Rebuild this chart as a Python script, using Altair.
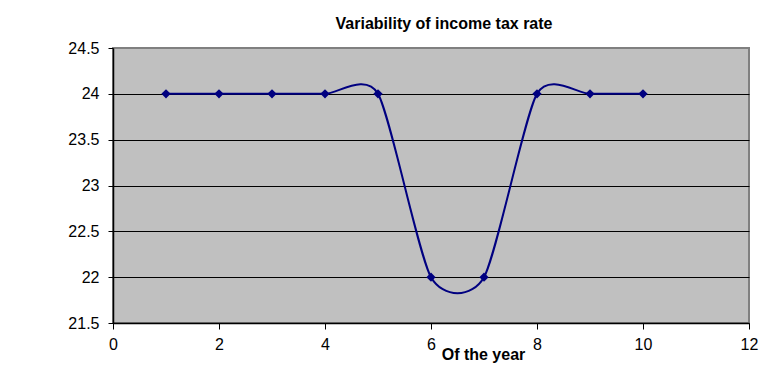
import altair as alt
import pandas as pd

years = [1, 2, 3, 4, 5, 6, 7, 8, 9, 10]
rates = [24, 24, 24, 24, 24, 22, 22, 24, 24, 24]
x_ticks = [0, 2, 4, 6, 8, 10, 12]
y_ticks = [21.5, 22, 22.5, 23, 23.5, 24, 24.5]

df = pd.DataFrame({"year": years, "rate": rates})

FONT = "Liberation Sans"
NAVY = "#000080"

x_enc = alt.X(
    "year:Q",
    scale=alt.Scale(domain=[0, 12], nice=False, zero=False),
    axis=alt.Axis(
        values=x_ticks,
        title="Of the year",
        grid=False,
        domainColor="black",
        domainWidth=1.5,
        tickColor="black",
        tickSize=6,
        labelPadding=7,
        labelFont=FONT,
        labelFontSize=16,
        labelColor="black",
        labelFlush=False,
        labelExpr="datum.value",
        titleFont=FONT,
        titleFontSize=16,
        titleFontWeight="bold",
        titleColor="black",
        titleX=370,
        titleY=36,
        titleAlign="center",
        titleBaseline="alphabetic",
    ),
)
y_enc = alt.Y(
    "rate:Q",
    scale=alt.Scale(domain=[21.5, 24.5], nice=False, zero=False),
    axis=alt.Axis(
        values=y_ticks,
        title=None,
        grid=True,
        gridColor="black",
        gridWidth=1,
        gridOpacity=alt.condition(alt.datum.value == 24.5, alt.value(0), alt.value(1)),
        domainColor="black",
        domainWidth=1.5,
        tickColor="black",
        tickSize=5,
        labelPadding=9,
        labelFont=FONT,
        labelFontSize=16,
        labelColor="black",
        labelFlush=False,
        labelExpr="datum.value",
    ),
)

base = alt.Chart(df).encode(x=x_enc, y=y_enc)

line = base.mark_line(
    interpolate="cardinal", tension=0.3, color=NAVY, strokeWidth=2
)
points = base.mark_point(
    shape="diamond", size=85, filled=True, color=NAVY, opacity=1
)

chart = (
    alt.layer(line, points)
    .properties(
        width=636,
        height=275,
        autosize="none",
        padding={"left": 105, "top": 40, "right": 10, "bottom": 44},
        view=alt.ViewBackground(fill="#C0C0C0", stroke="#808080", strokeWidth=2),
        title=alt.TitleParams(
            "Variability of income tax rate",
            font=FONT,
            fontSize=16,
            fontWeight="bold",
            color="black",
            anchor="middle",
            frame="group",
            baseline="alphabetic",
            offset=10,
            dx=13,
            dy=15,
        ),
    )
    .configure(background="white")
)

chart.save("out.html", embed_options={"renderer": "svg", "actions": False})
